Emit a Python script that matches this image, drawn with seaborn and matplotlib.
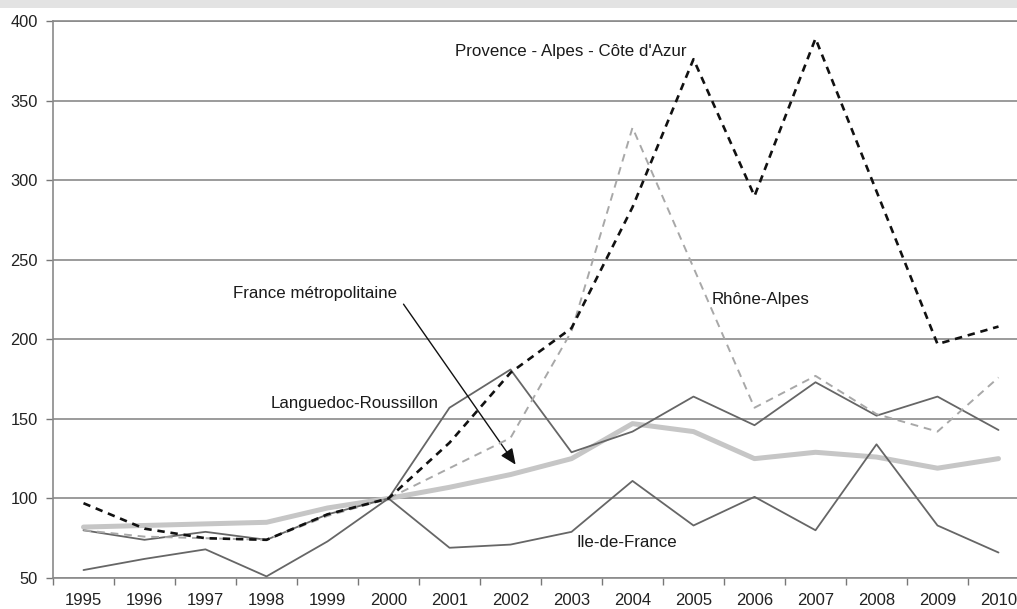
import matplotlib
matplotlib.use("Agg")
import matplotlib.pyplot as plt
from matplotlib.patches import Rectangle
import numpy as np
import pandas as pd
import seaborn as sns

years = list(range(1995, 2011))
paca = [97, 81, 75, 74, 90, 100, 135, 179, 207, 283, 376, 290, 389, 293, 197, 208]
rhone_alpes = [80, 76, 75, 74, 89, 100, 119, 138, 205, 333, 245, 157, 177, 153, 142, 176]
languedoc = [80, 74, 79, 74, 90, 100, 157, 181, 129, 142, 164, 146, 173, 152, 164, 143]
ile_de_france = [55, 62, 68, 51, 73, 100, 69, 71, 79, 111, 83, 101, 80, 134, 83, 66]
france_metro = [82, 83, 84, 85, 94, 100, 107, 115, 125, 147, 142, 125, 129, 126, 119, 125]

y_ticks = [50, 100, 150, 200, 250, 300, 350, 400]

sns.set_theme(style="white")
plt.rcParams['font.family'] = ['Liberation Sans', 'DejaVu Sans']

fig = plt.figure(figsize=(10.17, 6.09), dpi=100)
fig.patches.append(Rectangle((0, 1 - 8 / 609), 1, 8 / 609, transform=fig.transFigure,
                             facecolor="#e3e3e3", edgecolor="none", zorder=0))
ax = fig.add_axes([53 / 1017, 31 / 609, 1 - 53 / 1017, (588 - 31) / 609])

df = pd.DataFrame({"year": years, "paca": paca, "ra": rhone_alpes, "lr": languedoc,
                   "idf": ile_de_france, "fm": france_metro})

sns.lineplot(data=df, x="year", y="fm", ax=ax, color="#c6c6c6", linewidth=3.6, zorder=2)
sns.lineplot(data=df, x="year", y="lr", ax=ax, color="#666666", linewidth=1.3, zorder=3)
sns.lineplot(data=df, x="year", y="idf", ax=ax, color="#666666", linewidth=1.3, zorder=3)
sns.lineplot(data=df, x="year", y="ra", ax=ax, color="#a8a8a8", linewidth=1.4,
             zorder=4).lines[-1].set_dashes((4, 3))
sns.lineplot(data=df, x="year", y="paca", ax=ax, color="#111111", linewidth=1.9,
             zorder=5).lines[-1].set_dashes((2.8, 2.2))

ax.set_xlim(1994.5, 1994.5 + 964 / 61)
ax.set_ylim(50, 400)
ax.set_yticks(y_ticks)
ax.yaxis.grid(True, color="#8a8a8a", linewidth=1.2)
ax.set_axisbelow(True)
ax.set_xticks([y - 0.5 for y in years])
ax.set_xticklabels([])
ax.set_xticks(years, minor=True)
ax.set_xticklabels([str(y) for y in years], minor=True)
ax.tick_params(axis="x", which="major", length=5, width=1, color="#777777", direction="out", bottom=True)
ax.tick_params(axis="x", which="minor", length=0, pad=11, labelsize=12, labelcolor="#222222")
ax.tick_params(axis="y", length=5, width=1, color="#777777", direction="out", left=True,
               labelsize=11.8, labelcolor="#222222", pad=6)
for s in ["left", "bottom", "top"]:
    ax.spines[s].set_color("#8a8a8a")
    ax.spines[s].set_linewidth(1.2)
ax.spines["right"].set_visible(False)
ax.set_xlabel("")
ax.set_ylabel("")

fs = 12.2
tc = "#1a1a1a"
ax.text(2002.98, 380.6, "Provence - Alpes - Côte d'Azur", ha="center", va="center", fontsize=fs, color=tc)
ax.text(2005.29, 225, "Rhône-Alpes", ha="left", va="center", fontsize=fs, color=tc)
ax.text(1997.45, 229, "France métropolitaine", ha="left", va="center", fontsize=fs, color=tc)
ax.text(1998.06, 159.4, "Languedoc-Roussillon", ha="left", va="center", fontsize=fs, color=tc)
ax.text(2003.09, 72, "Ile-de-France", ha="left", va="center", fontsize=fs, color=tc)
ax.annotate("", xy=(2002.11, 119.8), xytext=(2000.22, 223.5),
            arrowprops=dict(arrowstyle="-|>,head_length=0.8,head_width=0.35", color="#111111", lw=1.0))

fig.savefig("out.png", dpi=100)
